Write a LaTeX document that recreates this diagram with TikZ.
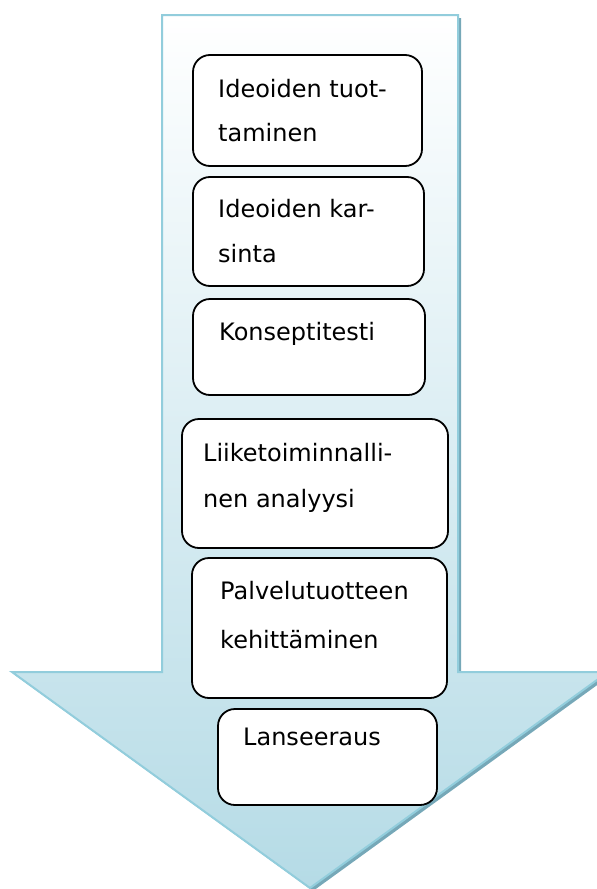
\documentclass[tikz,border=0pt]{standalone}
\usepackage{fontspec}
\setmainfont{DejaVu Sans}
\definecolor{arrowedge}{RGB}{146,205,220}
\definecolor{arrowmid}{RGB}{216,236,242}
\definecolor{arrowbot}{RGB}{181,219,230}
\definecolor{arrowshadow}{RGB}{118,168,184}
\begin{document}
\begin{tikzpicture}[x=1pt,y=-1pt,
  box/.style={draw=black, line width=1.8pt, rounded corners=17pt, fill=white},
  lbl/.style={anchor=base west, inner sep=0pt, font=\fontsize{24}{28}\selectfont}]
\useasboundingbox (0,0) rectangle (597,889);
\begin{scope}
  \clip (0,0) rectangle (597,889);
  % shadow of the big arrow
  \fill[arrowshadow, shift={(3,3)}]
    (162,15) -- (458,15) -- (458,672) -- (608,672) -- (310,888) -- (12,672) -- (162,672) -- cycle;
  % big arrow
  \shadedraw[top color=white, middle color=arrowmid, bottom color=arrowbot,
             draw=arrowedge, line width=2pt, line join=miter]
    (162,15) -- (458,15) -- (458,672) -- (608,672) -- (310,888) -- (12,672) -- (162,672) -- cycle;
\end{scope}
% boxes
\draw[box] (193,55) rectangle (422,166);
\node[inner sep=0pt, minimum size=0pt] (b1) at (307.5,110.5) {};
\draw[box] (193,177) rectangle (424,286);
\node[inner sep=0pt, minimum size=0pt] (b2) at (308.5,231.5) {};
\draw[box] (193,299) rectangle (425,395);
\node[inner sep=0pt, minimum size=0pt] (b3) at (309,347) {};
\draw[box] (182,419) rectangle (448,548);
\node[inner sep=0pt, minimum size=0pt] (b4) at (315,483.5) {};
\draw[box] (192,558) rectangle (447,698);
\node[inner sep=0pt, minimum size=0pt] (b5) at (319.5,628) {};
\draw[box] (218,709) rectangle (437,805);
\node[inner sep=0pt, minimum size=0pt] (b6) at (327.5,757) {};
% labels
\node[lbl] (t1a) at (218,97) {Ideoiden tuot-};
\node[lbl] (t1b) at (218,141) {taminen};
\node[lbl] (t2a) at (218,217) {Ideoiden kar-};
\node[lbl] (t2b) at (218,262) {sinta};
\node[lbl] (t3a) at (219,340) {Konseptitesti};
\node[lbl] (t4a) at (203,461) {Liiketoiminnalli-};
\node[lbl] (t4b) at (203,507) {nen analyysi};
\node[lbl] (t5a) at (220,599) {Palvelutuotteen};
\node[lbl] (t5b) at (220,648) {kehittäminen};
\node[lbl] (t6a) at (243,745) {Lanseeraus};
\end{tikzpicture}
\end{document}
